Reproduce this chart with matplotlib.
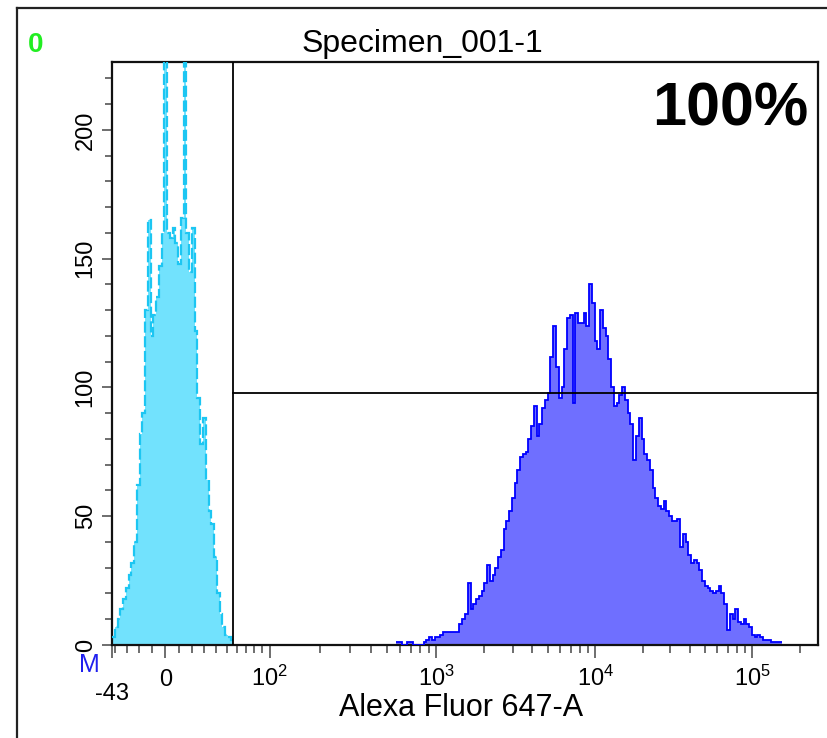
# coding: utf-8
"""
Flow cytometry histogram (Alexa Fluor 647-A) on a logicle axis.
"""
import numpy as np
import matplotlib
matplotlib.use("Agg")
import matplotlib.pyplot as plt
from matplotlib.lines import Line2D

# ---- data: counts per channel (256 channels over the logicle display) ----
n_channels = 256
isotype_start = 0
isotype_counts = [3, 7, 10, 14, 18, 22, 27, 32, 40, 62,
                  82, 90, 130, 165, 120, 128, 135, 147, 160, 228,
                  160, 158, 162, 156, 148, 166, 226, 160, 145, 162,
                  122, 96, 78, 88, 64, 52, 47, 34, 20, 12,
                  7, 4, 3, 2]
stained_start = 103
stained_counts = [1, 1, 0, 0, 1, 1, 0, 0, 0, 0,
                  1, 2, 3, 2, 3, 3, 4, 5, 5, 5,
                  5, 5, 5, 8, 10, 12, 24, 14, 16, 18,
                  19, 21, 24, 31, 25, 27, 30, 34, 37, 45,
                  48, 52, 57, 63, 68, 73, 74, 75, 80, 85,
                  93, 81, 86, 92, 95, 98, 112, 124, 108, 96,
                  100, 115, 127, 128, 94, 129, 125, 125, 129, 124,
                  140, 133, 118, 115, 130, 123, 120, 111, 100, 93,
                  94, 97, 100, 95, 90, 86, 72, 81, 88, 80,
                  74, 72, 68, 61, 57, 54, 53, 56, 52, 50,
                  48, 48, 49, 38, 43, 40, 35, 32, 33, 32,
                  29, 25, 23, 22, 21, 20, 21, 23, 20, 16,
                  6, 12, 10, 14, 9, 8, 10, 8, 7, 4,
                  3, 4, 3, 2, 2, 2, 1, 1, 1, 1]
gate_x = 56
gate_count = 98

x_tick_values = [0, 1e2, 1e3, 1e4, 1e5]
x_tick_labels = ["0", "$10^2$", "$10^3$", "$10^4$", "$10^5$"]
x_minor_values = [-40, -30, -20, -10, 10, 20, 30, 40, 50, 60, 70, 80, 90,
                  200, 300, 400, 500, 600, 700, 800, 900,
                  2000, 3000, 4000, 5000, 6000, 7000, 8000, 9000,
                  20000, 30000, 40000, 50000, 60000, 70000, 80000, 90000,
                  200000]
y_tick_values = [0, 50, 100, 150, 200]

# ---- logicle transform (T=262144, M=4.5, W=0.34, A=0) ----
T, M, W = 262144.0, 4.5, 0.34


def solve_p(w):
    lo, hi = 1.0001, 10.0
    for _ in range(100):
        mid = 0.5 * (lo + hi)
        if 2 * mid * np.log10(mid) / (mid + 1) < w:
            lo = mid
        else:
            hi = mid
    return 0.5 * (lo + hi)


P = solve_p(W)
TSC = T * 10 ** -(M - W)


def logicle_inverse(y):
    """display decades -> data value"""
    y = np.asarray(y, dtype=float)
    u = y - W
    a = np.abs(u)
    return np.sign(u) * TSC * (10 ** a - P ** 2 * 10 ** (-a / P) + P ** 2 - 1)


grid_y = np.linspace(-0.6, 5.2, 40001)
grid_x = logicle_inverse(grid_y)


def logicle_forward(x):
    """data value -> display decades"""
    return np.interp(np.asarray(x, dtype=float), grid_x, grid_y)


# ---- figure ----
plt.rcParams["font.family"] = ["Liberation Sans", "DejaVu Sans"]
plt.rcParams["mathtext.fontset"] = "custom"
plt.rcParams["mathtext.rm"] = "Liberation Sans"
plt.rcParams["mathtext.it"] = "Liberation Sans"

W_PX, H_PX = 827, 738
fig = plt.figure(figsize=(W_PX / 100, H_PX / 100), dpi=100)


def fx(px):
    return px / W_PX


def fy(py):
    return 1 - py / H_PX


AX_H = 645 - 62
ax = fig.add_axes([fx(112), fy(645), fx(818) - fx(112), AX_H / H_PX])
ax.set_xscale("function", functions=(logicle_forward, logicle_inverse))
xmin, xmax = float(logicle_inverse(0.0)), float(logicle_inverse(M))
ax.set_xlim(xmin, xmax)
ax.set_ylim(0, 226.4)

edges = logicle_inverse(np.linspace(0, M, n_channels + 1))

iso_edges = edges[isotype_start:isotype_start + len(isotype_counts) + 1]
ax.stairs(isotype_counts, iso_edges, fill=True, color="#72e2fd", lw=0, zorder=2)
ax.stairs(isotype_counts, iso_edges, fill=False, color="#1cc6f2", lw=1.6,
          ls=(0, (5, 1.6)), baseline=None, zorder=3)

st_edges = edges[stained_start:stained_start + len(stained_counts) + 1]
ax.stairs(stained_counts, st_edges, fill=True, color="#6f6fff", lw=0, zorder=2)
ax.stairs(stained_counts, st_edges, fill=False, color="#0000ff", lw=1.3,
          baseline=None, zorder=3)

# gate
ax.axvline(gate_x, color="black", lw=1.3, zorder=4)
ax.plot([gate_x, xmax], [gate_count, gate_count], color="black", lw=1.3, zorder=4)

for side in ax.spines.values():
    side.set_linewidth(1.6)
    side.set_color("#111111")

# x ticks, labels drawn on a common baseline
ax.set_xticks([xmin] + x_tick_values)
ax.set_xticklabels([])
ax.set_xticks(x_minor_values, minor=True)
ax.tick_params(axis="x", which="major", length=9, width=1.2, color="#555555")
ax.tick_params(axis="x", which="minor", length=6, width=1.2, color="#555555")
xtrans = ax.get_xaxis_transform()
for val, lab in zip(x_tick_values, x_tick_labels):
    ax.text(val, -(686 - 645) / AX_H, lab, transform=xtrans,
            ha="center", va="baseline", fontsize=17)
ax.text(xmin, -(700 - 645) / AX_H, "-43", transform=xtrans,
        ha="center", va="baseline", fontsize=17)

ax.set_yticks(y_tick_values)
ax.set_yticks(np.arange(0, 227, 10), minor=True)
ax.set_yticklabels([str(v) for v in y_tick_values], rotation=90, va="center",
                   fontsize=17)
ax.tick_params(axis="y", which="major", length=7, width=1.2, pad=4, color="#555555")
ax.tick_params(axis="y", which="minor", length=5, width=1.2, color="#555555")

# texts
fig.text(fx(461), fy(708), "Alexa Fluor 647-A", ha="center", va="center",
         fontsize=22)
fig.text(fx(422), fy(44), "Specimen_001-1", ha="center", va="center", fontsize=23)
fig.text(fx(808), fy(126), "100%", ha="right", va="baseline", fontsize=44,
         fontweight="bold")
fig.text(fx(36), fy(45), "0", ha="center", va="center", fontsize=20,
         fontweight="bold", color="#22ee22")
fig.text(fx(89), fy(665), "M", ha="center", va="center", fontsize=18,
         color="#2020ee")

# outer frame
fig.add_artist(Line2D([fx(17), 1.0], [fy(8), fy(8)], color="#222222", lw=1.6))
fig.add_artist(Line2D([fx(17), fx(17)], [0.0, fy(8)], color="#222222", lw=1.6))

fig.savefig("out.png", dpi=100)
